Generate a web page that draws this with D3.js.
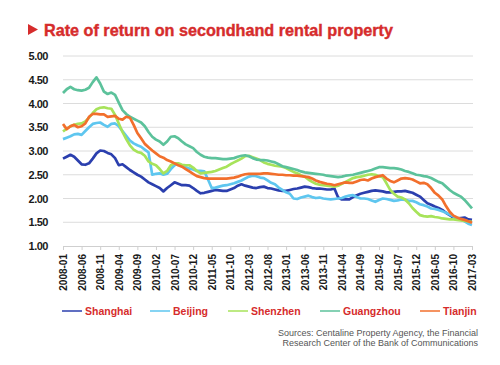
<!DOCTYPE html>
<html>
<head>
<meta charset="utf-8">
<script src="https://cdn.jsdelivr.net/npm/d3@7"></script>
<style>
  body { margin: 0; background: #fff; }
  svg text { font-family: "Liberation Sans", Arial, sans-serif; }
</style>
</head>
<body>
<svg id="chart" width="500" height="365"></svg>
<script>
const cities = ['Shanghai', 'Beijing', 'Shenzhen', 'Guangzhou', 'Tianjin'];
const colors = ['#2b3fae', '#5ec6ef', '#a7e35a', '#5cc29b', '#f26f2c'];

const tickLabels = ['2008-01', '2008-06', '2008-11', '2009-04', '2009-09', '2010-02', '2010-07',
  '2010-12', '2011-05', '2011-10', '2012-03', '2012-08', '2013-01', '2013-06', '2013-11',
  '2014-04', '2014-09', '2015-02', '2015-07', '2015-12', '2016-05', '2016-10', '2017-03'];
const yTicks = [1, 1.5, 2, 2.5, 3, 3.5, 4, 4.5, 5];

// monthly values, 2008-01 .. 2017-03
const shanghai = [
  2.84, 2.88, 2.92, 2.88, 2.80, 2.72, 2.71, 2.74, 2.84, 2.95,
  3.01, 3.00, 2.96, 2.93, 2.85, 2.70, 2.72, 2.66, 2.60, 2.55,
  2.50, 2.46, 2.40, 2.34, 2.30, 2.26, 2.22, 2.15, 2.22, 2.28,
  2.34, 2.31, 2.28, 2.28, 2.27, 2.22, 2.16, 2.11, 2.12, 2.14,
  2.16, 2.18, 2.17, 2.16, 2.16, 2.19, 2.22, 2.27, 2.30, 2.27,
  2.25, 2.23, 2.22, 2.24, 2.25, 2.22, 2.21, 2.19, 2.17, 2.16,
  2.16, 2.18, 2.20, 2.21, 2.23, 2.25, 2.24, 2.22, 2.21, 2.21,
  2.20, 2.19, 2.19, 2.21, 2.02, 1.98, 1.98, 1.98, 2.03, 2.07,
  2.10, 2.12, 2.14, 2.16, 2.17, 2.16, 2.15, 2.13, 2.13, 2.14,
  2.15, 2.15, 2.16, 2.14, 2.12, 2.08, 2.04, 1.97, 1.90, 1.87,
  1.83, 1.80, 1.76, 1.70, 1.65, 1.60, 1.58, 1.59, 1.60, 1.56,
  1.55];
const beijing = [
  3.25, 3.28, 3.31, 3.35, 3.36, 3.34, 3.42, 3.50, 3.57, 3.59,
  3.60, 3.55, 3.51, 3.57, 3.58, 3.52, 3.42, 3.32, 3.22, 3.16,
  3.12, 3.09, 3.03, 2.97, 2.50, 2.52, 2.53, 2.50, 2.52, 2.62,
  2.70, 2.73, 2.68, 2.66, 2.63, 2.61, 2.58, 2.58, 2.57, 2.40,
  2.22, 2.23, 2.25, 2.27, 2.28, 2.30, 2.32, 2.35, 2.38, 2.42,
  2.46, 2.48, 2.47, 2.44, 2.43, 2.38, 2.33, 2.30, 2.23, 2.18,
  2.13, 2.10, 2.00, 1.99, 2.02, 2.04, 2.06, 2.03, 2.01, 2.02,
  2.00, 1.99, 1.98, 1.99, 2.00, 2.01, 2.04, 2.06, 2.07, 2.03,
  2.00, 2.00, 1.99, 1.96, 1.93, 1.97, 2.00, 1.99, 1.97, 1.95,
  1.96, 1.98, 1.97, 1.95, 1.95, 1.92, 1.88, 1.86, 1.83, 1.79,
  1.78, 1.76, 1.73, 1.70, 1.66, 1.62, 1.59, 1.56, 1.52, 1.47,
  1.44];
const shenzhen = [
  3.41, 3.47, 3.52, 3.55, 3.57, 3.58, 3.62, 3.70, 3.80, 3.88,
  3.91, 3.92, 3.90, 3.89, 3.76, 3.58, 3.40, 3.25, 3.12, 3.03,
  2.98, 2.96, 2.90, 2.78, 2.73, 2.70, 2.62, 2.53, 2.58, 2.70,
  2.74, 2.74, 2.71, 2.70, 2.70, 2.65, 2.58, 2.53, 2.54, 2.55,
  2.56, 2.58, 2.61, 2.64, 2.67, 2.72, 2.76, 2.80, 2.84, 2.89,
  2.90, 2.87, 2.84, 2.81, 2.76, 2.73, 2.71, 2.69, 2.68, 2.67,
  2.64, 2.60, 2.56, 2.53, 2.49, 2.46, 2.40, 2.35, 2.31, 2.29,
  2.28, 2.27, 2.26, 2.25, 2.27, 2.31, 2.35, 2.39, 2.43, 2.45,
  2.46, 2.48, 2.50, 2.51, 2.50, 2.47, 2.45, 2.32, 2.18, 2.10,
  2.04, 2.02, 1.98, 1.90, 1.80, 1.72, 1.65, 1.63, 1.62, 1.63,
  1.61, 1.60, 1.58, 1.57, 1.56, 1.56, 1.55, 1.54, 1.53, 1.52,
  1.51];
const guangzhou = [
  4.22, 4.30, 4.35, 4.30, 4.28, 4.27, 4.29, 4.33, 4.45, 4.55,
  4.42, 4.25, 4.20, 4.23, 4.18, 4.02, 3.86, 3.78, 3.72, 3.68,
  3.64, 3.60, 3.52, 3.40, 3.30, 3.24, 3.20, 3.13, 3.20, 3.30,
  3.31, 3.27, 3.20, 3.14, 3.10, 3.06, 2.98, 2.92, 2.88, 2.86,
  2.85, 2.85, 2.84, 2.83, 2.83, 2.84, 2.85, 2.88, 2.90, 2.91,
  2.89, 2.85, 2.82, 2.81, 2.81, 2.80, 2.78, 2.76, 2.72, 2.68,
  2.66, 2.64, 2.62, 2.60, 2.57, 2.55, 2.54, 2.53, 2.52, 2.51,
  2.50, 2.48, 2.47, 2.46, 2.45, 2.46, 2.48, 2.49, 2.50, 2.52,
  2.54, 2.56, 2.58, 2.60, 2.63, 2.66, 2.66, 2.65, 2.64, 2.64,
  2.63, 2.61, 2.58, 2.56, 2.53, 2.50, 2.49, 2.47, 2.46, 2.43,
  2.39, 2.35, 2.32, 2.25, 2.18, 2.12, 2.08, 2.04, 1.97, 1.88,
  1.79];
const tianjin = [
  3.57, 3.46, 3.52, 3.55, 3.50, 3.52, 3.58, 3.72, 3.78, 3.78,
  3.77, 3.77, 3.72, 3.73, 3.74, 3.68, 3.66, 3.72, 3.70, 3.55,
  3.38, 3.27, 3.15, 3.08, 3.01, 2.95, 2.89, 2.86, 2.81, 2.78,
  2.74, 2.70, 2.67, 2.62, 2.57, 2.52, 2.47, 2.45, 2.43, 2.42,
  2.42, 2.42, 2.42, 2.42, 2.42, 2.43, 2.44, 2.46, 2.49, 2.51,
  2.52, 2.52, 2.52, 2.52, 2.53, 2.53, 2.52, 2.51, 2.50, 2.50,
  2.49, 2.49, 2.48, 2.48, 2.47, 2.46, 2.45, 2.42, 2.38, 2.35,
  2.33, 2.31, 2.30, 2.28, 2.30, 2.32, 2.34, 2.33, 2.33, 2.36,
  2.39, 2.40, 2.38, 2.42, 2.45, 2.47, 2.49, 2.42, 2.37, 2.34,
  2.38, 2.42, 2.43, 2.42, 2.40, 2.36, 2.32, 2.33, 2.30, 2.22,
  2.12, 2.06, 1.98, 1.84, 1.72, 1.64, 1.60, 1.57, 1.55, 1.52,
  1.49];

const series = [shanghai, beijing, shenzhen, guangzhou, tianjin];

const svg = d3.select('#chart');
const plotLeft = 63, plotRight = 472, plotTop = 56, plotBottom = 246;
const monthsPerTick = 5;

const x = d3.scaleLinear().domain([0, shanghai.length - 1]).range([plotLeft, plotRight]);
const y = d3.scaleLinear().domain([1, 5]).range([plotBottom, plotTop]);

// title
svg.append('path')
    .attr('d', 'M28,24 L38,29.5 L28,35 Z')
    .attr('fill', '#d62c2c');
svg.append('text')
    .attr('x', 44).attr('y', 36)
    .attr('fill', '#d62c2c')
    .attr('font-size', 16.2)
    .attr('font-weight', 900)
    .attr('stroke', '#d62c2c')
    .attr('stroke-width', 0.4)
    .text('Rate of return on secondhand rental property');

// grid + y labels
svg.append('g')
    .selectAll('line')
    .data(yTicks.slice(1))
    .enter()
    .append('line')
    .attr('x1', plotLeft).attr('x2', plotRight + 1)
    .attr('y1', d => y(d)).attr('y2', d => y(d))
    .attr('stroke', '#dcdcdc')
    .attr('stroke-width', 1);

svg.append('g')
    .selectAll('text')
    .data(yTicks)
    .enter()
    .append('text')
    .attr('x', 48)
    .attr('y', d => y(d) + 4)
    .attr('text-anchor', 'end')
    .attr('font-size', 11)
    .attr('font-weight', 'bold')
    .attr('fill', '#1a1a1a')
    .attr('letter-spacing', -0.5)
    .text(d => d.toFixed(2));

// x axis
const xAxis = d3.axisBottom(x)
    .tickValues(tickLabels.map((t, i) => i * monthsPerTick))
    .tickSize(4)
    .tickFormat((d, i) => tickLabels[i]);

const gx = svg.append('g')
    .attr('transform', 'translate(0,' + plotBottom + ')')
    .call(xAxis);
gx.select('.domain').attr('stroke', '#cfcfcf');
gx.selectAll('.tick line').attr('stroke', '#cfcfcf');
gx.selectAll('.tick text')
    .attr('font-family', '"Liberation Sans", Arial, sans-serif')
    .attr('font-size', 10)
    .attr('font-weight', 'bold')
    .attr('fill', '#1a1a1a')
    .attr('text-anchor', 'end')
    .attr('transform', 'rotate(-90)')
    .attr('x', -8)
    .attr('y', 0)
    .attr('dy', '0.35em');

// lines
const line = d3.line()
    .x((d, i) => x(i))
    .y(d => y(d));

svg.append('g')
    .selectAll('path')
    .data(series)
    .enter()
    .append('path')
    .attr('d', d => line(d))
    .attr('fill', 'none')
    .attr('stroke', (d, i) => colors[i])
    .attr('stroke-width', 2.7)
    .attr('stroke-linejoin', 'round');

// legend
const legendX = [62, 150, 228, 320, 420];
const legend = svg.append('g')
    .selectAll('g')
    .data(cities)
    .enter()
    .append('g')
    .attr('transform', (d, i) => 'translate(' + legendX[i] + ',311)');
legend.append('line')
    .attr('x1', 0).attr('x2', 20)
    .attr('stroke', (d, i) => colors[i])
    .attr('stroke-width', 1.5);
legend.append('text')
    .attr('x', 23).attr('y', 4)
    .attr('font-size', 10.5)
    .attr('font-weight', 'bold')
    .attr('fill', '#d62c2c')
    .text(d => d);

// sources
svg.append('text')
    .attr('text-anchor', 'end')
    .attr('font-size', 9)
    .attr('fill', '#555')
    .selectAll('tspan')
    .data(['Sources: Centaline Property Agency, the Financial', 'Research Center of the Bank of Communications'])
    .enter()
    .append('tspan')
    .attr('x', 478)
    .attr('y', (d, i) => 336 + i * 10)
    .text(d => d);
</script>
</body>
</html>
